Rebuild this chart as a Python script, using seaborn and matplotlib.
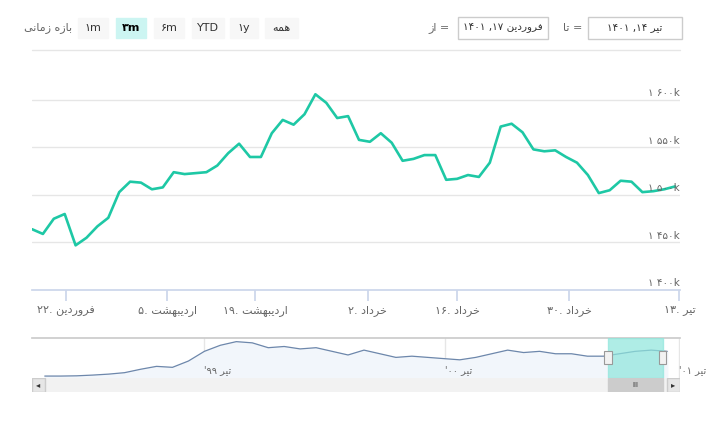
import matplotlib
matplotlib.use("Agg")
import matplotlib.pyplot as plt
import matplotlib.patches as mp
import matplotlib.transforms as mt
import seaborn as sns
import pandas as pd

sns.set_theme(style="white")
plt.rcParams['font.family'] = ['DejaVu Sans']

# ---------------- data ----------------
values_k = [1464, 1459, 1475, 1480, 1447, 1455, 1467, 1476, 1503, 1514,
            1513, 1506, 1508, 1524, 1522, 1523, 1524, 1531, 1544, 1554,
            1540, 1540, 1565, 1579, 1574, 1585, 1606, 1597, 1581, 1583,
            1558, 1556, 1565, 1555, 1536, 1538, 1542, 1542, 1516, 1517,
            1521, 1519, 1534, 1572, 1575, 1566, 1548, 1546, 1547, 1540,
            1534, 1521, 1502, 1505, 1515, 1514, 1503, 1504, 1506, 1509]
tick_days = [("فروردین", "۲۲"), ("اردیبهشت", "۵"), ("اردیبهشت", "۱۹"),
             ("خرداد", "۲"), ("خرداد", "۱۶"), ("خرداد", "۳۰"), ("تیر", "۱۳")]
tick_index = [3.1, 12.4, 20.5, 30.8, 39.0, 49.3, 59.4]
y_ticks_k = [1400, 1450, 1500, 1550, 1600]
y_tick_labels = ["۱ ۴۰۰k", "۱ ۴۵۰k", "۱ ۵۰۰k", "۱ ۵۵۰k", "۱ ۶۰۰k"]
nav_values_k = [480, 480, 490, 520, 560, 620, 760, 880, 840, 1100, 1500,
                1750, 1900, 1850, 1650, 1700, 1600, 1650, 1500, 1350, 1550,
                1400, 1250, 1300, 1250, 1200, 1150, 1250, 1400, 1550, 1450,
                1500, 1400, 1400, 1300, 1300, 1400, 1500, 1550, 1500]
nav_labels = ["تیر '۹۹", "تیر '۰۰", "تیر '۰۱"]
nav_label_pos = [0.265, 0.638, 0.998]
buttons = ["۱m", "۳m", "۶m", "YTD", "۱y", "همه"]

# ------------- simple Arabic shaping -------------
FORMS = {  # iso, fin, ini, med
    'ا': ('\uFE8D', '\uFE8E', None, None), 'د': ('\uFEA9', '\uFEAA', None, None),
    'ر': ('\uFEAD', '\uFEAE', None, None), 'ز': ('\uFEAF', '\uFEB0', None, None),
    'و': ('\uFEED', '\uFEEE', None, None),
    'ب': ('\uFE8F', '\uFE90', '\uFE91', '\uFE92'), 'ت': ('\uFE95', '\uFE96', '\uFE97', '\uFE98'),
    'خ': ('\uFEA5', '\uFEA6', '\uFEA7', '\uFEA8'), 'ش': ('\uFEB5', '\uFEB6', '\uFEB7', '\uFEB8'),
    'ف': ('\uFED1', '\uFED2', '\uFED3', '\uFED4'), 'م': ('\uFEE1', '\uFEE2', '\uFEE3', '\uFEE4'),
    'ن': ('\uFEE5', '\uFEE6', '\uFEE7', '\uFEE8'), 'ه': ('\uFEE9', '\uFEEA', '\uFEEB', '\uFEEC'),
    'ی': ('\uFEEF', '\uFEF0', '\uFEF3', '\uFEF4'),
}

def shape(word):
    out = []
    for i, c in enumerate(word):
        if c not in FORMS:
            out.append(c); continue
        prev = word[i - 1] if i > 0 else None
        nxt = word[i + 1] if i + 1 < len(word) else None
        jp = prev in FORMS and FORMS[prev][2] is not None
        jn = FORMS[c][2] is not None and nxt in FORMS
        f = FORMS[c]
        out.append(f[3] if (jp and jn) else f[1] if jp else f[2] if jn else f[0])
    return ''.join(out)

def rtl(s):
    return shape(s)[::-1]

GREY = '#666666'
fig = plt.figure(figsize=(7.07, 4.26), dpi=100)
W, H = 707, 426

def fx(x): return x / W
def fy(y): return 1 - y / H

# ------------- main chart -------------
ax = fig.add_axes([fx(32), fy(290), (680 - 32) / W, 240 / H])
df = pd.DataFrame({"i": range(len(values_k)), "v": values_k})
sns.lineplot(data=df, x="i", y="v", ax=ax, color="#1ec8a5", linewidth=1.9)
ax.set_xlim(0, 59.45)
ax.set_ylim(1400, 1652.6)
for s in ['top', 'left', 'right']:
    ax.spines[s].set_visible(False)
ax.spines['bottom'].set_color('#ccd6eb')
for yv in y_ticks_k[1:]:
    ax.axhline(yv, color='#e6e6e6', lw=1, zorder=0)
ax.set_yticks([])
tr = mt.blended_transform_factory(ax.transAxes, ax.transData)
for yv, lab in zip(y_ticks_k, y_tick_labels):
    ax.text(1.0, yv + 2, lab, transform=tr, ha='right', va='bottom', fontsize=7.5, color=GREY)
ax.set_xticks(tick_index)
ax.set_xticklabels([d + ". " + rtl(m) for m, d in tick_days], fontsize=8, color=GREY)
ax.tick_params(axis='x', length=8, color='#ccd6eb', pad=3, bottom=True)
ax.set_xlabel(""); ax.set_ylabel("")

# top separator
fig.add_artist(plt.Line2D([fx(32), fx(680)], [fy(50), fy(50)], color='#e6e6e6', lw=1))

# ------------- navigator -------------
nav = fig.add_axes([fx(32), fy(378), (680 - 32) / W, 40 / H])
nd = pd.DataFrame({"i": range(len(nav_values_k)), "v": nav_values_k})
nav.fill_between(nd["i"], nd["v"], 0, color='#f2f6fb', zorder=1)
sns.lineplot(data=nd, x="i", y="v", ax=nav, color='#6d87ab', linewidth=0.9, zorder=2)
n = len(nav_values_k) - 1
nav.set_xlim(-0.8, n + 0.8)
nav.set_ylim(400, 2050)
nav.set_xticks([]); nav.set_yticks([])
nav.set_xlabel(""); nav.set_ylabel("")
for s in ['left', 'right', 'bottom']:
    nav.spines[s].set_visible(False)
nav.spines['top'].set_color('#cccccc')
for p, lab in zip(nav_label_pos, nav_labels):
    nav.axvline(p * (n + 1.6) - 0.8, color='#e6e6e6', lw=1, zorder=0)
    parts = lab.split(" ")
    nav.text(p, 0.08, parts[1] + " " + rtl(parts[0]), transform=nav.transAxes,
             fontsize=7, color=GREY, ha='left', va='bottom', clip_on=False)
nav.add_patch(mp.Rectangle((0.889, 0), 0.084, 1, transform=nav.transAxes,
                           color='#8ee6dc', alpha=0.7, zorder=3))
for hx in (0.889, 0.973):
    nav.add_patch(mp.Rectangle((hx - 0.006, 0.35), 0.012, 0.33, transform=nav.transAxes,
                               facecolor='#f2f2f2', edgecolor='#999999', lw=0.8, zorder=4))

# scrollbar
sb = fig.add_axes([fx(32), fy(392), (680 - 32) / W, 14 / H])
sb.set_xticks([]); sb.set_yticks([])
for s in sb.spines.values():
    s.set_visible(False)
sb.add_patch(mp.Rectangle((0, 0), 1, 1, transform=sb.transAxes, color='#f2f2f2'))
sb.add_patch(mp.Rectangle((0.889, 0), 0.084, 1, transform=sb.transAxes, color='#cccccc'))
sb.add_patch(mp.Rectangle((0, 0), 0.02, 1, transform=sb.transAxes, facecolor='#e6e6e6', edgecolor='#cccccc'))
sb.add_patch(mp.Rectangle((0.98, 0), 0.02, 1, transform=sb.transAxes, facecolor='#e6e6e6', edgecolor='#cccccc'))
sb.text(0.01, 0.5, "◂", transform=sb.transAxes, ha='center', va='center', fontsize=6, color='#333333')
sb.text(0.99, 0.5, "▸", transform=sb.transAxes, ha='center', va='center', fontsize=6, color='#333333')
sb.text(0.931, 0.5, "III", transform=sb.transAxes, ha='center', va='center', fontsize=5, color='#333333')

# ------------- range selector -------------
fig.text(fx(72), fy(28), rtl("بازه زمانی"), ha='right', va='center', fontsize=8, color=GREY)
bx = [78, 116, 154, 192, 230, 265]
bw = [30, 30, 30, 32, 28, 33]
for b, x0, w in zip(buttons, bx, bw):
    sel = b == "۳m"
    fig.add_artist(mp.Rectangle((fx(x0), fy(38)), w / W, 20 / H, transform=fig.transFigure,
                                color='#ccf5f2' if sel else '#f7f7f7'))
    txt = rtl(b) if b == "همه" else b
    fig.text(fx(x0 + w / 2), fy(28), txt, ha='center', va='center', fontsize=8,
             color='#000000' if sel else '#333333', fontweight='bold' if sel else 'normal')

fig.text(fx(450), fy(28), rtl("از") + " =", ha='right', va='center', fontsize=8, color=GREY)
fig.add_artist(mp.Rectangle((fx(458), fy(39)), 90 / W, 22 / H, transform=fig.transFigure,
                            facecolor='white', edgecolor='#cccccc', lw=1))
fig.text(fx(503), fy(28), "۱۴۰۱ ,۱۷ " + rtl("فروردین"), ha='center', va='center', fontsize=7.5, color='#333333')
fig.text(fx(582), fy(28), rtl("تا") + " =", ha='right', va='center', fontsize=8, color=GREY)
fig.add_artist(mp.Rectangle((fx(588), fy(39)), 94 / W, 22 / H, transform=fig.transFigure,
                            facecolor='white', edgecolor='#cccccc', lw=1))
fig.text(fx(635), fy(28), "۱۴۰۱ ,۱۴ " + rtl("تیر"), ha='center', va='center', fontsize=7.5, color='#333333')

fig.savefig("out.png", dpi=100)
